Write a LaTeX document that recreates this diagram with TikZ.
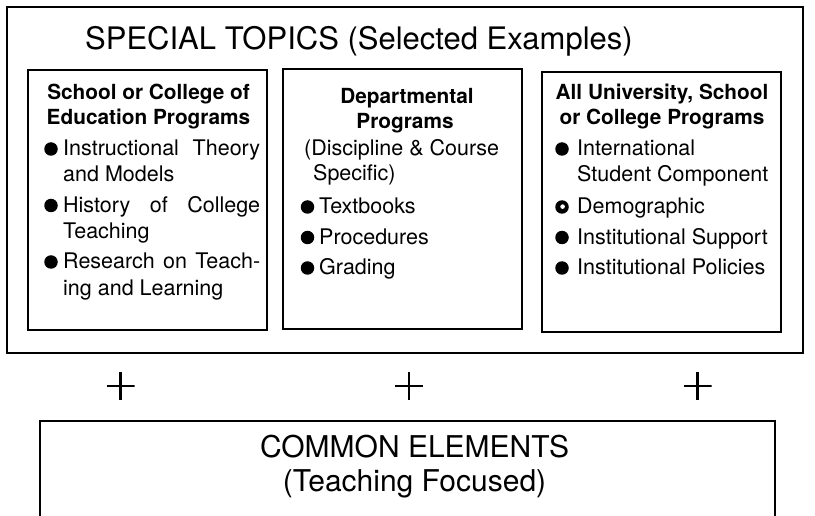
\documentclass[tikz,border=0pt]{standalone}
\usepackage{fontspec}
\setmainfont{TeX Gyre Heros}
\begin{document}
\begin{tikzpicture}[x=1pt,y=-1pt,
  frame/.style={draw=black,line width=1.3pt,inner sep=0pt},
  head/.style={anchor=base,inner sep=0pt,font=\fontsize{20.8}{25}\selectfont\bfseries},
  item/.style={anchor=base west,inner sep=0pt,font=\fontsize{21.5}{26}\selectfont},
  bul/.style={circle,fill=black,inner sep=0pt,minimum size=13.5pt},
  plussign/.style={inner sep=0pt,minimum size=28pt,
    path picture={\draw[line width=2.6pt]
      (path picture bounding box.north) -- (path picture bounding box.south)
      (path picture bounding box.west) -- (path picture bounding box.east);}},
  big/.style={inner sep=0pt,font=\fontsize{30}{36}\selectfont}]
  \clip (0,0) rectangle (815,516);
  \fill[white] (0,0) rectangle (815,516);

  % outer frame and title
  \node[frame,minimum width=796pt,minimum height=346pt] (topics) at (405,180) {};
  \node[big,anchor=base west,font=\fontsize{31}{36}\selectfont] (title) at (85,50) {SPECIAL TOPICS (Selected Examples)};

  % three program boxes
  \node[frame,minimum width=239pt,minimum height=260pt] (box1) at (147.5,200) {};
  \node[frame,minimum width=239pt,minimum height=260pt] (box2) at (402.5,199) {};
  \node[frame,minimum width=239pt,minimum height=260pt] (box3) at (661.5,202) {};

  % school or college of education
  \node[head] (h1a) at (148.5,100) {School or College of};
  \node[head] (h1b) at (148.5,124.5) {Education Programs};
  \node[bul] (b1a) at (51,149) {};
  \node[item] (t1a) at (63,156) {\makebox[197pt][s]{Instructional Theory}};
  \node[item] (t1b) at (63,182) {and Models};
  \node[bul] (b1b) at (51,205.5) {};
  \node[item] (t1c) at (63,212.5) {\makebox[197pt][s]{History of College}};
  \node[item] (t1d) at (63,238.5) {Teaching};
  \node[bul] (b1c) at (51,262) {};
  \node[item] (t1e) at (63,269) {\makebox[197pt][s]{Research on Teach-}};
  \node[item] (t1f) at (63,295) {ing and Learning};

  % departmental programs
  \node[head] (h2a) at (407,104) {Departmental};
  \node[head] (h2b) at (405,128.5) {Programs};
  \node[item] (t2a) at (304,155.5) {(Discipline \& Course};
  \node[item] (t2b) at (313,181) {Specific)};
  \node[bul] (b2a) at (307.5,207) {};
  \node[item] (t2c) at (319,214) {Textbooks};
  \node[bul] (b2b) at (307.5,237.5) {};
  \node[item] (t2d) at (319,244.5) {Procedures};
  \node[bul] (b2c) at (307.5,268) {};
  \node[item] (t2e) at (319,275) {Grading};

  % all university programs
  \node[head] (h3a) at (662,99.5) {All University, School};
  \node[head] (h3b) at (662,124.5) {or College Programs};
  \node[bul] (b3a) at (562,149) {};
  \node[item] (t3a) at (577,156) {International};
  \node[item] (t3b) at (577,182) {Student Component};
  \node[bul] (b3b) at (562,207) {};
  \fill[white] ([shift={(0.6pt,0.4pt)}]b3b.center) circle (2.3pt);
  \node[item] (t3c) at (577,214) {Demographic};
  \node[bul] (b3c) at (562,237.5) {};
  \node[item] (t3d) at (577,244.5) {Institutional Support};
  \node[bul] (b3d) at (562,268) {};
  \node[item] (t3e) at (577,275) {Institutional Policies};

  % plus signs
  \node[plussign] (p1) at (120.5,386) {};
  \node[plussign] (p2) at (409,386) {};
  \node[plussign] (p3) at (697.5,386) {};

  % common elements
  \node[frame,minimum width=735pt,minimum height=160pt] (common) at (407.5,501) {};
  \node[big,anchor=base] (c1) at (414.5,457) {COMMON ELEMENTS};
  \node[big,anchor=base] (c2) at (414.5,491) {(Teaching Focused)};
\end{tikzpicture}
\end{document}
